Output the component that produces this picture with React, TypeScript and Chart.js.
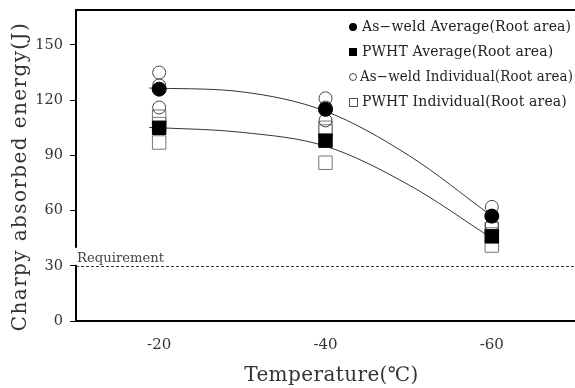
import React, { useEffect, useRef } from "react";
import { Chart, registerables } from "chart.js";

Chart.register(...registerables);

// ---- data ----
const temperatures = [-20, -40, -60];
const asWeldAverage = [126, 115, 57];
const pwhtAverage = [105, 98, 46];
const asWeldIndividual1 = [135, 121, 62];
const asWeldIndividual2 = [128, 116, 57];
const asWeldIndividual3 = [116, 109, 52];
const pwhtIndividual1 = [111, 105, 50];
const pwhtIndividual2 = [107, 103, 47];
const pwhtIndividual3 = [97, 86, 41];
const asWeldFitTemps = [-18.8, -20, -30, -40, -50, -60];
const asWeldFitValues = [126.6, 126.5, 124.5, 114, 90, 57];
const pwhtFitTemps = [-18.8, -20, -30, -40, -50, -60];
const pwhtFitValues = [105.2, 105, 102.5, 95, 74, 45];
const xTickValues = [-20, -40, -60];
const yTickValues = [0, 30, 60, 90, 120, 150];
const requirementValue = 30;
const xRange = [-70, -10];
const yRange = [0, 169];

const labels = {
  asWeldAvg: "As\u2212weld Average(Root area)",
  pwhtAvg: "PWHT Average(Root area)",
  asWeldInd: "As\u2212weld Individual(Root area)",
  pwhtInd: "PWHT Individual(Root area)",
  requirement: "Requirement",
  xTitle: "Temperature(\u2103)",
  yTitle: "Charpy absorbed energy(J)",
};

const SERIF = "'DejaVu Serif', 'Liberation Serif', serif";

function points(xs: number[], ys: number[]) {
  return xs.map((x, i) => ({ x, y: ys[i] }));
}

function individualPoints(series: number[][]) {
  const out: { x: number; y: number }[] = [];
  temperatures.forEach((t, i) => series.forEach((s) => out.push({ x: t, y: s[i] })));
  return out;
}

export default function App() {
  const ref = useRef<HTMLCanvasElement>(null);

  useEffect(() => {
    const canvas = ref.current!;

    const decorPlugin = {
      id: "decor",
      beforeDatasetsDraw(chart: any) {
        const { ctx, chartArea } = chart;
        const y = chart.scales.y.getPixelForValue(requirementValue);
        ctx.save();
        ctx.strokeStyle = "#333";
        ctx.lineWidth = 1;
        ctx.setLineDash([3, 2]);
        ctx.beginPath();
        ctx.moveTo(chartArea.left, Math.round(y) + 0.5);
        ctx.lineTo(chartArea.right, Math.round(y) + 0.5);
        ctx.stroke();
        ctx.restore();
      },
      afterDraw(chart: any) {
        const { ctx, chartArea } = chart;
        ctx.save();
        // top frame line
        ctx.strokeStyle = "#000";
        ctx.lineWidth = 2;
        ctx.beginPath();
        ctx.moveTo(chartArea.left - 1, chartArea.top);
        ctx.lineTo(chartArea.right, chartArea.top);
        ctx.stroke();

        // requirement label with white box
        const y = chart.scales.y.getPixelForValue(requirementValue);
        ctx.font = `13.2px ${SERIF}`;
        const w = ctx.measureText(labels.requirement).width;
        ctx.fillStyle = "#fff";
        ctx.fillRect(chartArea.left - 2, y - 18, w + 3, 17);
        ctx.fillStyle = "#444";
        ctx.textBaseline = "alphabetic";
        ctx.textAlign = "left";
        ctx.fillText(labels.requirement, chartArea.left + 1, y - 4);

        // axis titles
        ctx.fillStyle = "#333";
        ctx.textAlign = "center";
        ctx.textBaseline = "middle";
        ctx.font = `20px ${SERIF}`;
        (ctx as any).letterSpacing = "0.4px";
        ctx.fillText(labels.xTitle, (chartArea.left + chartArea.right) / 2 + 6, chartArea.bottom + 55);
        (ctx as any).letterSpacing = "1.4px";
        ctx.save();
        ctx.translate(21, (chartArea.top + chartArea.bottom) / 2 + 11);
        ctx.rotate(-Math.PI / 2);
        ctx.fillText(labels.yTitle, 0, 0);
        ctx.restore();
        (ctx as any).letterSpacing = "0px";

        // legend
        const mx = chartArea.left + 277;
        const rows = chart.data.datasets.filter((d: any) => d.legendRow !== undefined);
        rows.forEach((d: any) => {
          const ry = chartArea.top + 17 + d.legendRow * 25;
          ctx.lineWidth = 1;
          if (d.pointStyle === "circle") {
            const r = d.legendFilled ? 4 : 3.5;
            ctx.beginPath();
            ctx.arc(mx, ry, r, 0, Math.PI * 2);
            if (d.legendFilled) {
              ctx.fillStyle = "#000";
              ctx.fill();
            } else {
              ctx.strokeStyle = "#444";
              ctx.stroke();
            }
          } else {
            if (d.legendFilled) {
              ctx.fillStyle = "#000";
              ctx.fillRect(mx - 4, ry - 4, 8, 8);
            } else {
              ctx.strokeStyle = "#555";
              ctx.strokeRect(mx - 4 + 0.5, ry - 3.5, 8, 8);
            }
          }
          ctx.fillStyle = "#222";
          ctx.font = `14px ${SERIF}`;
          (ctx as any).letterSpacing = "0.15px";
          ctx.textAlign = "left";
          ctx.textBaseline = "middle";
          const tx = mx + (d.legendGap ?? 9);
          ctx.fillText(d.label, tx, ry, chartArea.right - tx - 2);
        });
        ctx.restore();
      },
    };

    const chart = new Chart(canvas, {
      type: "scatter",
      data: {
        datasets: [
          {
            label: labels.asWeldAvg,
            data: points(temperatures, asWeldAverage),
            pointStyle: "circle",
            pointRadius: 7,
            backgroundColor: "#000",
            borderColor: "#000",
            borderWidth: 1,
            order: 0,
            legendRow: 0,
            legendFilled: true,
          } as any,
          {
            label: labels.pwhtAvg,
            data: points(temperatures, pwhtAverage),
            pointStyle: "rect",
            pointRadius: 9.5,
            backgroundColor: "#000",
            borderColor: "#000",
            borderWidth: 1,
            order: 1,
            legendRow: 1,
            legendFilled: true,
          } as any,
          {
            label: "As-weld fit",
            data: points(asWeldFitTemps, asWeldFitValues),
            showLine: true,
            pointRadius: 0,
            borderColor: "#333",
            borderWidth: 1,
            cubicInterpolationMode: "monotone",
            order: 2,
          } as any,
          {
            label: "PWHT fit",
            data: points(pwhtFitTemps, pwhtFitValues),
            showLine: true,
            pointRadius: 0,
            borderColor: "#333",
            borderWidth: 1,
            cubicInterpolationMode: "monotone",
            order: 2,
          } as any,
          {
            label: labels.asWeldInd,
            data: individualPoints([asWeldIndividual1, asWeldIndividual2, asWeldIndividual3]),
            pointStyle: "circle",
            pointRadius: 6.5,
            backgroundColor: "rgba(0,0,0,0)",
            borderColor: "#444",
            borderWidth: 1,
            order: 3,
            legendRow: 2,
            legendFilled: false,
            legendGap: 7,
          } as any,
          {
            label: labels.pwhtInd,
            data: individualPoints([pwhtIndividual1, pwhtIndividual2, pwhtIndividual3]),
            pointStyle: "rect",
            pointRadius: 9.5,
            backgroundColor: "rgba(0,0,0,0)",
            borderColor: "#777",
            borderWidth: 1,
            order: 4,
            legendRow: 3,
            legendFilled: false,
          } as any,
        ],
      },
      options: {
        animation: false,
        responsive: false,
        maintainAspectRatio: false,
        layout: { autoPadding: false, padding: { top: 10, left: 0, right: 0, bottom: 0 } },
        plugins: { legend: { display: false }, tooltip: { enabled: false } },
        scales: {
          x: {
            type: "linear",
            reverse: true,
            min: xRange[0],
            max: xRange[1],
            afterBuildTicks: (s: any) => {
              s.ticks = xTickValues.map((v) => ({ value: v }));
            },
            afterFit: (s: any) => {
              s.height = 67;
              s.paddingLeft = 0;
              s.paddingRight = 0;
            },
            grid: { display: false, drawTicks: false },
            border: { display: true, color: "#000", width: 2 },
            ticks: {
              font: { family: SERIF, size: 15 },
              color: "#333",
              padding: 15,
              maxRotation: 0,
              callback: (v: any) => String(v),
            },
          },
          y: {
            type: "linear",
            min: yRange[0],
            max: yRange[1],
            afterBuildTicks: (s: any) => {
              s.ticks = yTickValues.map((v) => ({ value: v }));
            },
            afterFit: (s: any) => {
              s.width = 76;
              s.paddingTop = 0;
              s.paddingBottom = 0;
            },
            grid: { drawOnChartArea: false, drawTicks: true, tickLength: 6, color: "#000", lineWidth: 1 },
            border: { display: true, color: "#000", width: 2 },
            ticks: { font: { family: SERIF, size: 14.5 }, color: "#333", padding: 7 },
          },
        },
      },
      plugins: [decorPlugin],
    });

    return () => chart.destroy();
  }, []);

  return (
    <div style={{ position: "fixed", left: 0, top: 0, width: 575, height: 388, background: "#fff" }}>
      <canvas ref={ref} width={575} height={388} style={{ width: 575, height: 388, display: "block" }} />
    </div>
  );
}
